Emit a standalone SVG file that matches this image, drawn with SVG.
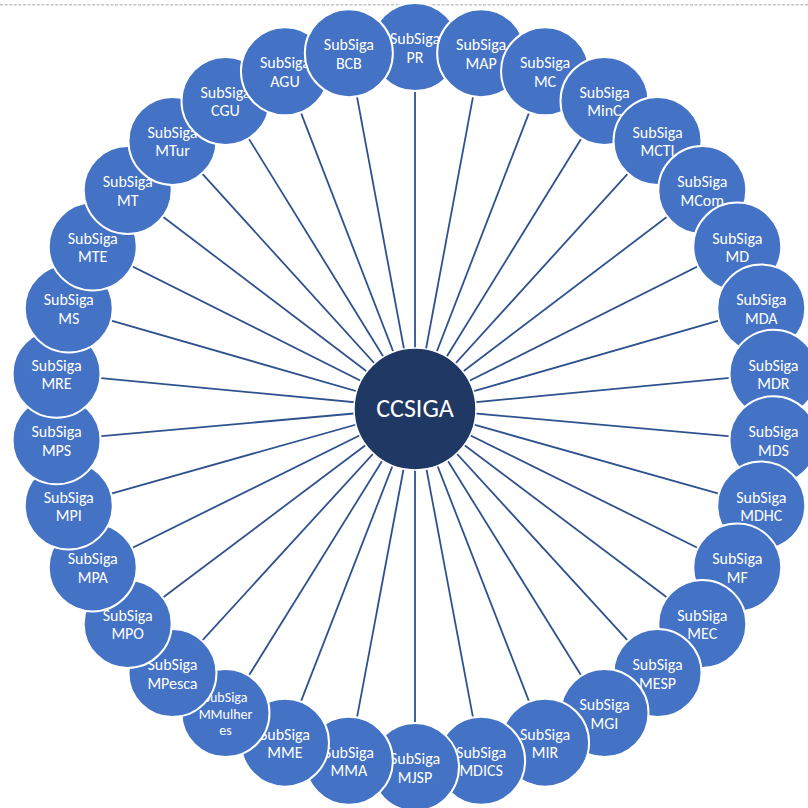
<svg xmlns="http://www.w3.org/2000/svg" width="808" height="808" viewBox="0 0 808 808">
<style>
.sub circle{fill:#4472C4;stroke:#FFFFFF;stroke-width:2}
.sub text{fill:#FFFFFF;font-family:Calibri,Carlito,Lato,"Liberation Sans",sans-serif;font-size:16px;text-anchor:middle}
.sub text.sm{font-size:14px}
.conn line{stroke:#2F528F;stroke-width:1.8}
#CCSIGA circle{fill:#203864;stroke:#FFFFFF;stroke-width:1.5}
#CCSIGA text{fill:#FFFFFF;font-family:Calibri,Carlito,Lato,"Liberation Sans",sans-serif;font-size:26px;text-anchor:middle}
</style>
<rect x="0" y="0" width="808" height="808" fill="#FFFFFF"/>
<line x1="0" y1="4.8" x2="808" y2="4.8" stroke="#C4C4C4" stroke-width="1.5" stroke-dasharray="3 1.6"/>
<g id="connectors" class="conn">
<line x1="415" y1="408" x2="415" y2="47"/>
<line x1="415" y1="408" x2="481.15" y2="53.13"/>
<line x1="415" y1="408" x2="545.05" y2="71.31"/>
<line x1="415" y1="408" x2="604.51" y2="100.92"/>
<line x1="415" y1="408" x2="657.53" y2="140.96"/>
<line x1="415" y1="408" x2="702.29" y2="190.05"/>
<line x1="415" y1="408" x2="737.26" y2="246.54"/>
<line x1="415" y1="408" x2="761.26" y2="308.48"/>
<line x1="415" y1="408" x2="773.46" y2="373.78"/>
<line x1="415" y1="408" x2="773.46" y2="440.22"/>
<line x1="415" y1="408" x2="761.26" y2="505.52"/>
<line x1="415" y1="408" x2="737.26" y2="567.46"/>
<line x1="415" y1="408" x2="702.29" y2="623.95"/>
<line x1="415" y1="408" x2="657.53" y2="673.04"/>
<line x1="415" y1="408" x2="604.51" y2="713.08"/>
<line x1="415" y1="408" x2="545.05" y2="742.69"/>
<line x1="415" y1="408" x2="481.15" y2="760.87"/>
<line x1="415" y1="408" x2="415" y2="767"/>
<line x1="415" y1="408" x2="348.85" y2="760.87"/>
<line x1="415" y1="408" x2="284.95" y2="742.69"/>
<line x1="415" y1="408" x2="225.49" y2="713.08"/>
<line x1="415" y1="408" x2="172.47" y2="673.04"/>
<line x1="415" y1="408" x2="127.71" y2="623.95"/>
<line x1="415" y1="408" x2="92.74" y2="567.46"/>
<line x1="415" y1="408" x2="68.74" y2="505.52"/>
<line x1="415" y1="408" x2="56.54" y2="440.22"/>
<line x1="415" y1="408" x2="56.54" y2="373.78"/>
<line x1="415" y1="408" x2="68.74" y2="308.48"/>
<line x1="415" y1="408" x2="92.74" y2="246.54"/>
<line x1="415" y1="408" x2="127.71" y2="190.05"/>
<line x1="415" y1="408" x2="172.47" y2="140.96"/>
<line x1="415" y1="408" x2="225.49" y2="100.92"/>
<line x1="415" y1="408" x2="284.95" y2="71.31"/>
<line x1="415" y1="408" x2="348.85" y2="53.13"/>
</g>
<g id="PR" class="sub"><circle cx="415" cy="47" r="44"/><text x="415" y="44">SubSiga</text><text x="415" y="62.5">PR</text></g>
<g id="MAP" class="sub"><circle cx="481.15" cy="53.13" r="44"/><text x="481.15" y="50.13">SubSiga</text><text x="481.15" y="68.63">MAP</text></g>
<g id="MC" class="sub"><circle cx="545.05" cy="71.31" r="44"/><text x="545.05" y="68.31">SubSiga</text><text x="545.05" y="86.81">MC</text></g>
<g id="MinC" class="sub"><circle cx="604.51" cy="100.92" r="44"/><text x="604.51" y="97.92">SubSiga</text><text x="604.51" y="116.42">MinC</text></g>
<g id="MCTI" class="sub"><circle cx="657.53" cy="140.96" r="44"/><text x="657.53" y="137.96">SubSiga</text><text x="657.53" y="156.46">MCTI</text></g>
<g id="MCom" class="sub"><circle cx="702.29" cy="190.05" r="44"/><text x="702.29" y="187.05">SubSiga</text><text x="702.29" y="205.55">MCom</text></g>
<g id="MD" class="sub"><circle cx="737.26" cy="246.54" r="44"/><text x="737.26" y="243.54">SubSiga</text><text x="737.26" y="262.04">MD</text></g>
<g id="MDA" class="sub"><circle cx="761.26" cy="308.48" r="44"/><text x="761.26" y="305.48">SubSiga</text><text x="761.26" y="323.98">MDA</text></g>
<g id="MDR" class="sub"><circle cx="773.46" cy="373.78" r="44"/><text x="773.46" y="370.78">SubSiga</text><text x="773.46" y="389.28">MDR</text></g>
<g id="MDS" class="sub"><circle cx="773.46" cy="440.22" r="44"/><text x="773.46" y="437.22">SubSiga</text><text x="773.46" y="455.72">MDS</text></g>
<g id="MDHC" class="sub"><circle cx="761.26" cy="505.52" r="44"/><text x="761.26" y="502.52">SubSiga</text><text x="761.26" y="521.02">MDHC</text></g>
<g id="MF" class="sub"><circle cx="737.26" cy="567.46" r="44"/><text x="737.26" y="564.46">SubSiga</text><text x="737.26" y="582.96">MF</text></g>
<g id="MEC" class="sub"><circle cx="702.29" cy="623.95" r="44"/><text x="702.29" y="620.95">SubSiga</text><text x="702.29" y="639.45">MEC</text></g>
<g id="MESP" class="sub"><circle cx="657.53" cy="673.04" r="44"/><text x="657.53" y="670.04">SubSiga</text><text x="657.53" y="688.54">MESP</text></g>
<g id="MGI" class="sub"><circle cx="604.51" cy="713.08" r="44"/><text x="604.51" y="710.08">SubSiga</text><text x="604.51" y="728.58">MGI</text></g>
<g id="MIR" class="sub"><circle cx="545.05" cy="742.69" r="44"/><text x="545.05" y="739.69">SubSiga</text><text x="545.05" y="758.19">MIR</text></g>
<g id="MDICS" class="sub"><circle cx="481.15" cy="760.87" r="44"/><text x="481.15" y="757.87">SubSiga</text><text x="481.15" y="776.37">MDICS</text></g>
<g id="MJSP" class="sub"><circle cx="415" cy="767" r="44"/><text x="415" y="764">SubSiga</text><text x="415" y="782.5">MJSP</text></g>
<g id="MMA" class="sub"><circle cx="348.85" cy="760.87" r="44"/><text x="348.85" y="757.87">SubSiga</text><text x="348.85" y="776.37">MMA</text></g>
<g id="MME" class="sub"><circle cx="284.95" cy="742.69" r="44"/><text x="284.95" y="739.69">SubSiga</text><text x="284.95" y="758.19">MME</text></g>
<g id="MMulheres" class="sub"><circle cx="225.49" cy="713.08" r="44"/><text class="sm" x="225.49" y="702">SubSiga</text><text class="sm" x="225.49" y="718.5">MMulher</text><text class="sm" x="225.49" y="735">es</text></g>
<g id="MPesca" class="sub"><circle cx="172.47" cy="673.04" r="44"/><text x="172.47" y="670.04">SubSiga</text><text x="172.47" y="688.54">MPesca</text></g>
<g id="MPO" class="sub"><circle cx="127.71" cy="623.95" r="44"/><text x="127.71" y="620.95">SubSiga</text><text x="127.71" y="639.45">MPO</text></g>
<g id="MPA" class="sub"><circle cx="92.74" cy="567.46" r="44"/><text x="92.74" y="564.46">SubSiga</text><text x="92.74" y="582.96">MPA</text></g>
<g id="MPI" class="sub"><circle cx="68.74" cy="505.52" r="44"/><text x="68.74" y="502.52">SubSiga</text><text x="68.74" y="521.02">MPI</text></g>
<g id="MPS" class="sub"><circle cx="56.54" cy="440.22" r="44"/><text x="56.54" y="437.22">SubSiga</text><text x="56.54" y="455.72">MPS</text></g>
<g id="MRE" class="sub"><circle cx="56.54" cy="373.78" r="44"/><text x="56.54" y="370.78">SubSiga</text><text x="56.54" y="389.28">MRE</text></g>
<g id="MS" class="sub"><circle cx="68.74" cy="308.48" r="44"/><text x="68.74" y="305.48">SubSiga</text><text x="68.74" y="323.98">MS</text></g>
<g id="MTE" class="sub"><circle cx="92.74" cy="246.54" r="44"/><text x="92.74" y="243.54">SubSiga</text><text x="92.74" y="262.04">MTE</text></g>
<g id="MT" class="sub"><circle cx="127.71" cy="190.05" r="44"/><text x="127.71" y="187.05">SubSiga</text><text x="127.71" y="205.55">MT</text></g>
<g id="MTur" class="sub"><circle cx="172.47" cy="140.96" r="44"/><text x="172.47" y="137.96">SubSiga</text><text x="172.47" y="156.46">MTur</text></g>
<g id="CGU" class="sub"><circle cx="225.49" cy="100.92" r="44"/><text x="225.49" y="97.92">SubSiga</text><text x="225.49" y="116.42">CGU</text></g>
<g id="AGU" class="sub"><circle cx="284.95" cy="71.31" r="44"/><text x="284.95" y="68.31">SubSiga</text><text x="284.95" y="86.81">AGU</text></g>
<g id="BCB" class="sub"><circle cx="348.85" cy="53.13" r="44"/><text x="348.85" y="50.13">SubSiga</text><text x="348.85" y="68.63">BCB</text></g>
<g id="CCSIGA"><circle cx="415" cy="409" r="61"/><text x="415" y="417">CCSIGA</text></g>
</svg>
